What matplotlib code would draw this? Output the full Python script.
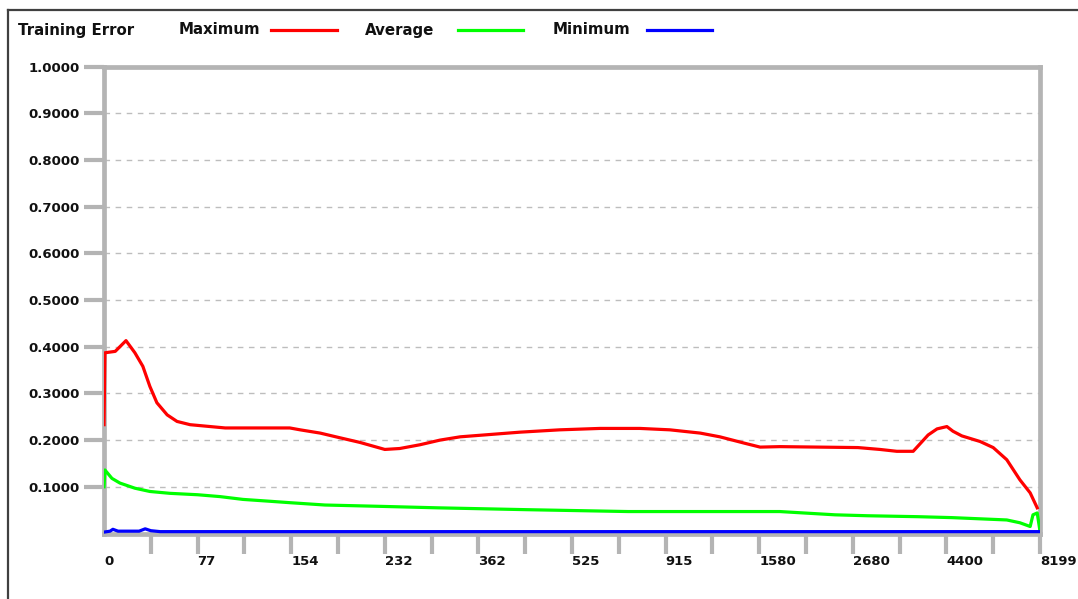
import matplotlib
matplotlib.use("Agg")
import matplotlib.pyplot as plt
from matplotlib.lines import Line2D

plt.rcParams['font.family'] = ['DejaVu Sans']
plt.rcParams['lines.scale_dashes'] = False

# x tick labels (evenly spaced positions on a non-linear epoch scale)
x_labels = ["0", "77", "154", "232", "362", "525", "915", "1580", "2680", "4400", "8199"]
y_labels = ["0.1000", "0.2000", "0.3000", "0.4000", "0.5000",
            "0.6000", "0.7000", "0.8000", "0.9000", "1.0000"]
y_values = [0.1, 0.2, 0.3, 0.4, 0.5, 0.6, 0.7, 0.8, 0.9, 1.0]

# series, x in tick-position units (0 .. 20)
max_x = [0.0, 0.02, 0.24, 0.47, 0.66, 0.83, 0.98, 1.13, 1.35, 1.56, 1.84, 2.59, 3.97,
         4.19, 4.62, 5.04, 5.47, 6.00, 6.32, 6.75, 7.18, 7.61, 8.25, 8.89, 9.74, 10.60,
         11.45, 12.09, 12.74, 13.16, 13.70, 14.02, 14.44, 16.11, 16.58, 16.94, 17.29,
         17.61, 17.80, 18.01, 18.14, 18.33, 18.72, 19.00, 19.29, 19.57, 19.79, 19.94]
max_y = [0.233, 0.387, 0.390, 0.413, 0.387, 0.358, 0.315, 0.280, 0.254, 0.240, 0.233,
         0.226, 0.226, 0.222, 0.215, 0.205, 0.195, 0.180, 0.182, 0.190, 0.200, 0.207,
         0.212, 0.217, 0.222, 0.225, 0.225, 0.222, 0.215, 0.207, 0.193, 0.185, 0.186,
         0.184, 0.180, 0.176, 0.176, 0.211, 0.224, 0.229, 0.219, 0.209, 0.197, 0.184,
         0.158, 0.115, 0.087, 0.055]

avg_x = [0.0, 0.02, 0.17, 0.34, 0.66, 0.98, 1.41, 2.0, 2.48, 2.97, 3.55, 3.97, 4.72,
         5.96, 7.12, 9.04, 11.2, 14.44, 15.62, 16.32, 17.39, 18.12, 19.29, 19.57,
         19.79, 19.85, 19.94, 20.0]
avg_y = [0.100, 0.136, 0.118, 0.108, 0.097, 0.090, 0.086, 0.083, 0.079, 0.073, 0.069,
         0.066, 0.061, 0.058, 0.055, 0.051, 0.047, 0.047, 0.040, 0.038, 0.036, 0.034,
         0.029, 0.023, 0.015, 0.040, 0.044, 0.005]

min_x = [0.0, 0.13, 0.19, 0.30, 0.75, 0.88, 1.0, 1.2, 20.0]
min_y = [0.003, 0.005, 0.009, 0.005, 0.005, 0.010, 0.006, 0.004, 0.004]

GRAY = '#b4b4b4'

fig = plt.figure(figsize=(10.78, 5.99), dpi=100)
ax = fig.add_axes([104/1078, 1 - 533.5/599, (1040-104)/1078, (533.5-66.5)/599])

ax.plot(max_x, max_y, color='#ff0000', lw=2.3, zorder=4, solid_joinstyle='round')
ax.plot(avg_x, avg_y, color='#00ff00', lw=2.3, zorder=4, solid_joinstyle='round')
ax.plot(min_x, min_y, color='#0000ff', lw=2.3, zorder=5, solid_joinstyle='round')

ax.set_xlim(0, 20)
ax.set_ylim(0, 1.0)

for yv in y_values[:-1]:
    ax.axhline(yv, color='#bdbdbd', lw=1.0, dashes=(4, 4), zorder=1)

for s in ax.spines.values():
    s.set_color(GRAY)
    s.set_linewidth(3.4)
ax.spines['bottom'].set_zorder(0)

# y ticks
ax.set_yticks(y_values)
ax.set_yticklabels(y_labels, fontsize=9.5, fontweight='bold', color='#111111')
ax.tick_params(axis='y', length=14.5, width=3.0, color=GRAY, pad=3, direction='out')

# x ticks: major (labelled) at even positions, minor at odd
major = list(range(0, 21, 2))
ax.set_xticks(major)
ax.set_xticklabels(x_labels, fontsize=9.5, fontweight='bold', color='#111111', ha='left')
ax.set_xticks(list(range(1, 21, 2)), minor=True)
ax.tick_params(axis='x', which='both', length=14.5, width=3.0, color=GRAY, pad=1,
               direction='out')
ax.xaxis.get_major_ticks()[0].tick1line.set_visible(False)

# legend row
fy = 1 - 30/599
fig.text(18/1078, fy, "Training Error", fontsize=10.8, fontweight='bold', va='center',
         ha='left', color='#111111')
legend_items = [("Maximum", '#ff0000', 179, 271, 337),
                ("Average", '#00ff00', 365, 458, 523),
                ("Minimum", '#0000ff', 553, 647, 712)]
for name, col, tx, l0, l1 in legend_items:
    fig.text(tx/1078, fy, name, fontsize=10.8, fontweight='bold', va='center', ha='left',
             color='#111111')
    fig.add_artist(Line2D([l0/1078, l1/1078], [fy, fy], color=col, lw=2.3,
                          transform=fig.transFigure))

# outer frame (top and left)
fig.add_artist(Line2D([8/1078, 1.0], [1 - 10/599, 1 - 10/599], color='#404040', lw=1.6,
                      transform=fig.transFigure))
fig.add_artist(Line2D([8/1078, 8/1078], [0, 1 - 10/599], color='#404040', lw=1.6,
                      transform=fig.transFigure))

fig.savefig('out.png', dpi=100)
